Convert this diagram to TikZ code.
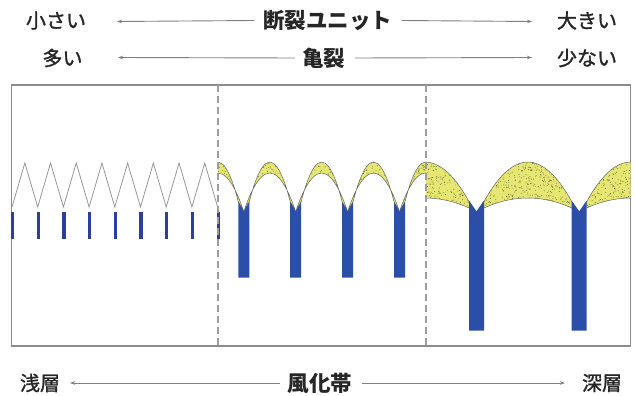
\documentclass[tikz,border=0pt]{standalone}
\usepackage{fontspec}
\newfontfamily\jp{Noto Sans CJK JP}
\newfontfamily\jpmid[FakeBold=1.3]{Noto Sans CJK JP}
\usetikzlibrary{arrows.meta}
\definecolor{framegray}{HTML}{8C8C8C}
\definecolor{rockblue}{HTML}{2B4EA8}
\definecolor{navyblue}{HTML}{2D3F9E}
\definecolor{sand}{HTML}{E6E772}
\definecolor{speck}{HTML}{5E5C30}
\definecolor{txt}{HTML}{262626}
\begin{document}
\begin{tikzpicture}[x=1pt,y=-1pt,
  lbl/.style={font=\jpmid\fontsize{20}{20}\selectfont, text=txt, inner sep=0pt},
  key/.style={font=\jp\bfseries\fontsize{21.5}{21.5}\selectfont, text=txt, inner sep=0pt},
  arr/.style={draw=gray, line width=0.9pt, -{Stealth[length=5pt,width=3.5pt]}},
  zig/.style={draw=framegray!90, line width=0.8pt},
  rim/.style={draw=gray!80!black, line width=0.5pt},
  panel/.style={draw=framegray, line width=1.4pt},
  divider/.style={draw=framegray!85, line width=1.1pt, dash pattern=on 7pt off 4pt}]
\useasboundingbox (0,0) rectangle (635,396);
\pgfmathsetseed{12}

% ---- header: fracture unit size and crack density ----
\node[lbl] (small) at (56,20.5) {小さい};
\node[key] (unit)  at (327.5,20.5) {断裂ユニット};
\node[lbl] (large) at (587,20.5) {大きい};
\coordinate (unitL) at (117,21.5);
\coordinate (unitR) at (532,21.5);
\draw[arr] ([xshift=-9pt]unit.west) -- (unitL);
\draw[arr] ([xshift=10pt]unit.east) -- (unitR);

\node[lbl] (many) at (62.5,58) {多い};
\node[key] (crack) at (323.5,58) {亀裂};
\node[lbl] (few)  at (587,58) {少ない};
\coordinate (crackL) at (118,57.5);
\coordinate (crackR) at (532,57.5);
\draw[arr] ([xshift=-7pt]crack.west) -- (crackL);
\draw[arr] ([xshift=10pt]crack.east) -- (crackR);

% ---- footer: depth within the weathered zone ----
\node[lbl] (shallow) at (40,383) {浅層};
\node[key] (zone)    at (320,383) {風化帯};
\node[lbl] (deep)    at (602,383) {深層};
\coordinate (zoneL) at (70,383);
\coordinate (zoneR) at (565,383);
\draw[arr] ([xshift=-8pt]zone.west) -- (zoneL);
\draw[arr] ([xshift=10pt]zone.east) -- (zoneR);

% ---- outer frame ----
\draw[panel] (11.7,85) rectangle (630.5,346);

% ---- left panel: fresh rock, dense thin cracks ----
\draw[zig] (12,207) foreach \j in {1,...,8} { -- ({12+25.7*\j-12.85},163) -- ({12+25.7*\j},207) };
\foreach \j in {0,...,8} {
  \fill[navyblue] ({12.5+25.7*\j-1.6},211.7) rectangle ({12.5+25.7*\j+1.6},239);
}

% ---- weathered caps (yellow, speckled) between crack columns ----
% arguments: left column, right column, column width, lower crest, clip x0, clip x1, dots
\foreach \cl/\cr/\w/\lo/\xl/\xr/\n in {
    191.9/243.8/11/173/218/426/300,
    243.8/295.7/11/173/218/426/300,
    295.7/347.6/11/173/218/426/300,
    347.6/399.5/11/173/218/426/300,
    399.5/451.4/11/173/218/426/300,
    373.8/476.5/15/198/426/630.5/600,
    476.5/579.2/15/198/426/630.5/600,
    579.2/681.9/15/198/426/630.5/600} {
  \pgfmathsetmacro\xa{\cl+\w/2}
  \pgfmathsetmacro\xm{(\cl+\cr)/2}
  \pgfmathsetmacro\xb{\cr-\w/2}
  \begin{scope}
    \clip (\xl,150) rectangle (\xr,220);
    \begin{scope}
      \clip (\xa,201.7) parabola bend (\xm,162) (\xb,201.7) -- (\cr,211.7)
            parabola bend (\xm,\lo) (\cl,211.7) -- cycle;
      \fill[sand] (\cl,150) rectangle (\cr,220);
      \foreach \i in {1,...,\n} {
        \fill[speck] ({\cl+(\cr-\cl)*rnd},{158+56*rnd}) circle (0.45);
      }
    \end{scope}
    \draw[rim] (\xa,201.7) parabola bend (\xm,162) (\xb,201.7) -- (\cr,211.7)
          parabola bend (\xm,\lo) (\cl,211.7) -- cycle;
  \end{scope}
}

% ---- crack columns below the caps ----
\foreach \c in {243.8,295.7,347.6,399.5} {
  \fill[rockblue] ({\c-5.5},277.7) -- ({\c-5.5},201.7) -- (\c,211.7)
                  -- ({\c+5.5},201.7) -- ({\c+5.5},277.7) -- cycle;
}
\foreach \c in {476.5,579.2} {
  \fill[rockblue] ({\c-7.5},330.7) -- ({\c-7.5},200.5) -- (\c,211.7)
                  -- ({\c+7.5},200.5) -- ({\c+7.5},330.7) -- cycle;
}

% ---- panel dividers ----
\draw[divider] (218,85) -- (218,346);
\draw[divider] (426,85) -- (426,346);
\end{tikzpicture}
\end{document}
